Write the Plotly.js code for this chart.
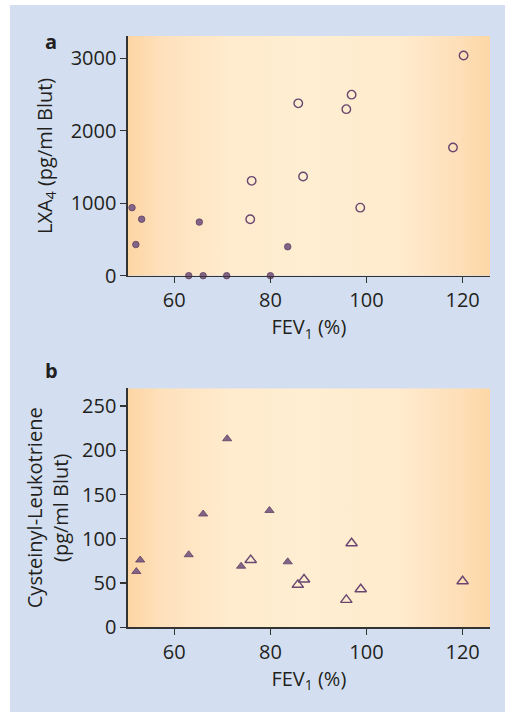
<!DOCTYPE html>
<html>
<head>
<meta charset="utf-8">
<script src="https://cdn.plot.ly/plotly-3.0.1.min.js"></script>
<style>html,body{margin:0;padding:0;background:#fff;}#chart{width:505px;height:712px;}</style>
</head>
<body>
<div id="chart"></div>
<script>
// Panel a: LXA4 vs FEV1
const aFilledFEV1 = [51.2, 53.2, 52.0, 65.2, 63.0, 66.0, 70.9, 80.0, 83.6];
const aFilledLXA4 = [940, 780, 430, 740, 0, 0, 0, 0, 400];
const aOpenFEV1 = [75.8, 76.1, 85.8, 86.8, 95.8, 96.9, 98.7, 118.0, 120.2];
const aOpenLXA4 = [780, 1310, 2380, 1370, 2300, 2500, 940, 1770, 3040];

// Panel b: Cysteinyl-Leukotriene vs FEV1
const bFilledFEV1 = [52.1, 52.9, 63.0, 66.0, 71.0, 73.9, 79.8, 83.6];
const bFilledCysLT = [63, 76, 82, 128, 213, 69, 132, 74];
const bOpenFEV1 = [75.9, 85.7, 87.0, 95.8, 96.9, 98.8, 120.0];
const bOpenCysLT = [76, 48, 54, 31, 95, 43, 52];

const xTicks = [60, 80, 100, 120];
const aYTicks = [0, 1000, 2000, 3000];
const bYTicks = [0, 50, 100, 150, 200, 250];

const W = 505, H = 712;
const FONT = 'Open Sans, sans-serif';
const TXT = '#231f20';
const fillCol = '#846486', lineCol = '#5e4062', openCol = '#6a4670';

const traces = [
  {x: aFilledFEV1, y: aFilledLXA4, xaxis: 'x', yaxis: 'y', mode: 'markers', type: 'scatter',
   marker: {symbol: 'circle', size: 6.5, color: fillCol, line: {color: lineCol, width: 0.8}}, cliponaxis: false},
  {x: aOpenFEV1, y: aOpenLXA4, xaxis: 'x', yaxis: 'y', mode: 'markers', type: 'scatter',
   marker: {symbol: 'circle-open', size: 8.5, color: openCol, line: {width: 1.4}}, cliponaxis: false},
  {x: bFilledFEV1, y: bFilledCysLT, xaxis: 'x2', yaxis: 'y2', mode: 'markers', type: 'scatter',
   marker: {symbol: 'triangle-up', size: 8, color: fillCol, line: {color: lineCol, width: 0.8}}, cliponaxis: false},
  {x: bOpenFEV1, y: bOpenCysLT, xaxis: 'x2', yaxis: 'y2', mode: 'markers', type: 'scatter',
   marker: {symbol: 'triangle-up-open', size: 10, color: openCol, line: {width: 1.4}}, cliponaxis: false}
];

const xDom = [127.7 / W, 490 / W];
const aDom = [1 - 275.7 / H, 1 - 36 / H];
const bDom = [1 - 627.3 / H, 1 - 388.3 / H];

const svg = '<svg xmlns="http://www.w3.org/2000/svg" width="400" height="10" preserveAspectRatio="none">' +
  '<defs><linearGradient id="g" x1="0" y1="0" x2="1" y2="0">' +
  '<stop offset="0" stop-color="#fdd5a3"/>' +
  '<stop offset="0.1" stop-color="#fee1bd"/>' +
  '<stop offset="0.28" stop-color="#ffebcd"/>' +
  '<stop offset="0.5" stop-color="#ffeed2"/>' +
  '<stop offset="0.75" stop-color="#ffebcd"/>' +
  '<stop offset="0.9" stop-color="#fee0bb"/>' +
  '<stop offset="1" stop-color="#fdd7a5"/>' +
  '</linearGradient></defs><rect width="400" height="10" fill="url(#g)"/></svg>';
const gradURI = 'data:image/svg+xml;charset=utf-8,' + encodeURIComponent(svg);

function xAxis(anchor) {
  return {
    domain: xDom, anchor: anchor, range: [50.3, 125.7], tickvals: xTicks, ticktext: xTicks.map(String),
    showgrid: false, zeroline: false, showline: true, linecolor: '#333', linewidth: 1.3,
    ticks: 'outside', ticklen: 6, tickwidth: 1.2, tickcolor: '#333',
    tickfont: {family: FONT, size: 20, color: TXT},
    title: {text: 'FEV<sub>1</sub> (%)', font: {family: FONT, size: 20, color: TXT}, standoff: 8}
  };
}
function yAxis(anchor, dom, range, ticks, title, standoff) {
  return {
    domain: dom, anchor: anchor, range: range, tickvals: ticks, ticktext: ticks.map(String),
    showgrid: false, zeroline: false, showline: true, linecolor: '#333', linewidth: 1.3,
    ticks: 'outside', ticklen: 6, tickwidth: 1.2, tickcolor: '#333',
    tickfont: {family: FONT, size: 20, color: TXT},
    title: {text: title, font: {family: FONT, size: 20, color: TXT}, standoff: standoff}
  };
}

const layout = {
  width: W, height: H, margin: {l: 0, r: 0, t: 0, b: 0},
  paper_bgcolor: '#ffffff', plot_bgcolor: 'rgba(0,0,0,0)', showlegend: false,
  xaxis: xAxis('y'),
  yaxis: yAxis('x', aDom, [0, 3310], aYTicks, 'LXA<sub>4</sub> (pg/ml Blut)', 12),
  xaxis2: xAxis('y2'),
  yaxis2: yAxis('x2', bDom, [0, 270], bYTicks, 'Cysteinyl-Leukotriene<br>(pg/ml Blut)', 8),
  shapes: [
    {type: 'rect', xref: 'paper', yref: 'paper', x0: 10 / W, x1: 1, y0: 0, y1: 1 - 5 / H,
     fillcolor: '#d3dff1', line: {width: 0}, layer: 'below'}
  ],
  images: [
    {source: gradURI, xref: 'x domain', yref: 'y domain', x: 0, y: 1, sizex: 1, sizey: 1,
     xanchor: 'left', yanchor: 'top', sizing: 'stretch', layer: 'below'},
    {source: gradURI, xref: 'x2 domain', yref: 'y2 domain', x: 0, y: 1, sizex: 1, sizey: 1,
     xanchor: 'left', yanchor: 'top', sizing: 'stretch', layer: 'below'}
  ],
  annotations: [
    {text: 'a', xref: 'paper', yref: 'paper', x: 50.5 / W, y: 1 - 42 / H, showarrow: false,
     xanchor: 'center', yanchor: 'middle', font: {family: FONT, size: 20, color: TXT, weight: 'bold'}},
    {text: 'b', xref: 'paper', yref: 'paper', x: 51 / W, y: 1 - 370 / H, showarrow: false,
     xanchor: 'center', yanchor: 'middle', font: {family: FONT, size: 20, color: TXT, weight: 'bold'}}
  ]
};

Plotly.newPlot('chart', traces, layout, {displayModeBar: false, staticPlot: true});
</script>
</body>
</html>
